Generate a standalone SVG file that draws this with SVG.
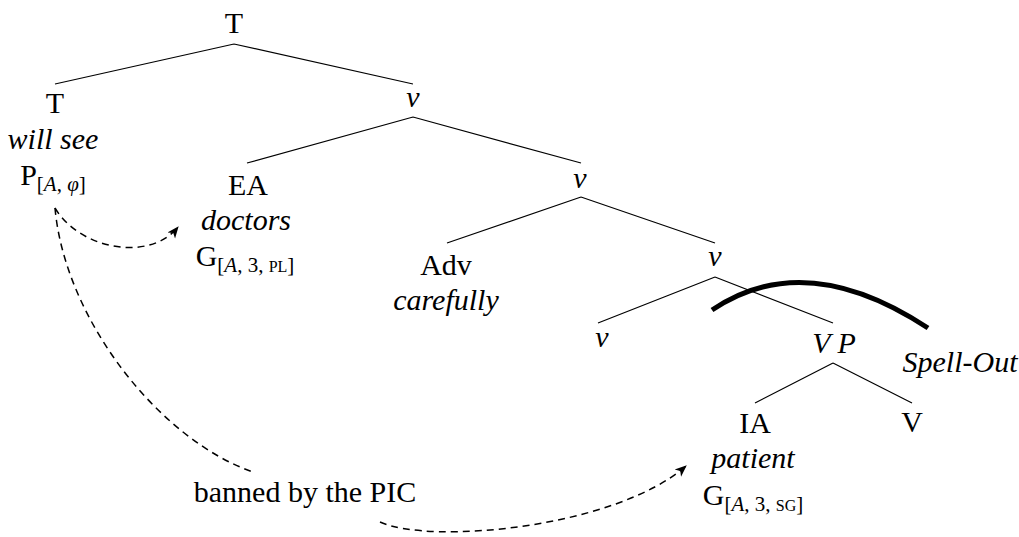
<svg xmlns="http://www.w3.org/2000/svg" width="1019" height="537" viewBox="0 0 1019 537">
<style>
text{font-family:"Liberation Serif","Times New Roman",serif;font-size:30px;fill:#000;text-anchor:middle}
.it{font-style:italic}
.sub{font-size:21px}
.sc{font-size:16px}
.edge{stroke:#000;stroke-width:1.2;fill:none}
.dash{stroke:#000;stroke-width:1.5;fill:none;stroke-dasharray:7 5}
.spell{stroke:#000;stroke-width:5;fill:none}
</style>
<defs>
<marker id="arr" markerUnits="userSpaceOnUse" markerWidth="13" markerHeight="13" viewBox="0 0 12 12" refX="10" refY="6" orient="auto">
<path d="M0,1.5 L11,6 L0,10.5 L3,6 z" fill="#000" stroke="none"/>
</marker>
</defs>
<g id="connectors">
<path class="edge" d="M234,44 L55,84 M234,44 L413,84"/>
<path class="edge" d="M413,117 L247,163 M413,117 L581,163"/>
<path class="edge" d="M581,197 L447,243 M581,197 L715,243"/>
<path class="edge" d="M715,277 L598,323 M715,277 L833,323"/>
<path class="edge" d="M833,363 L755,403 M833,363 L912,403"/>
<path class="dash" d="M55,208 C80,250 150,262 178,227" marker-end="url(#arr)"/>
<path class="dash" d="M55,208 C65,320 160,440 253,472"/>
<path class="dash" d="M380,522 C430,545 615,528 686,466" marker-end="url(#arr)"/>
<path class="spell" d="M712,310 Q805,247 928,328"/>
</g>
<g id="T-root"><text x="234" y="33">T</text></g>
<g id="T-left">
<text x="55" y="113">T</text>
<text x="53" y="149" class="it">will see</text>
<text x="53" y="185">P<tspan class="sub" dy="6">[<tspan class="it">A</tspan>, <tspan class="it">φ</tspan>]</tspan></text>
</g>
<g id="v1"><text x="413" y="107" class="it">v</text></g>
<g id="EA">
<text x="248" y="195">EA</text>
<text x="246" y="230" class="it">doctors</text>
<text x="245" y="266">G<tspan class="sub" dy="6">[<tspan class="it">A</tspan>, 3, <tspan class="sc">PL</tspan>]</tspan></text>
</g>
<g id="v2"><text x="580" y="188" class="it">v</text></g>
<g id="Adv">
<text x="446" y="275">Adv</text>
<text x="446" y="310" class="it">carefully</text>
</g>
<g id="v3"><text x="715" y="266" class="it">v</text></g>
<g id="v4"><text x="602" y="347" class="it">v</text></g>
<g id="VP"><text x="834" y="353" class="it">V P</text></g>
<g id="SpellOut"><text x="960" y="372" class="it">Spell-Out</text></g>
<g id="IA">
<text x="755" y="433">IA</text>
<text x="753" y="468" class="it">patient</text>
<text x="753" y="505">G<tspan class="sub" dy="6">[<tspan class="it">A</tspan>, 3, <tspan class="sc">SG</tspan>]</tspan></text>
</g>
<g id="V"><text x="912" y="432">V</text></g>
<g id="banned"><text x="305" y="502">banned by the PIC</text></g>
</svg>
